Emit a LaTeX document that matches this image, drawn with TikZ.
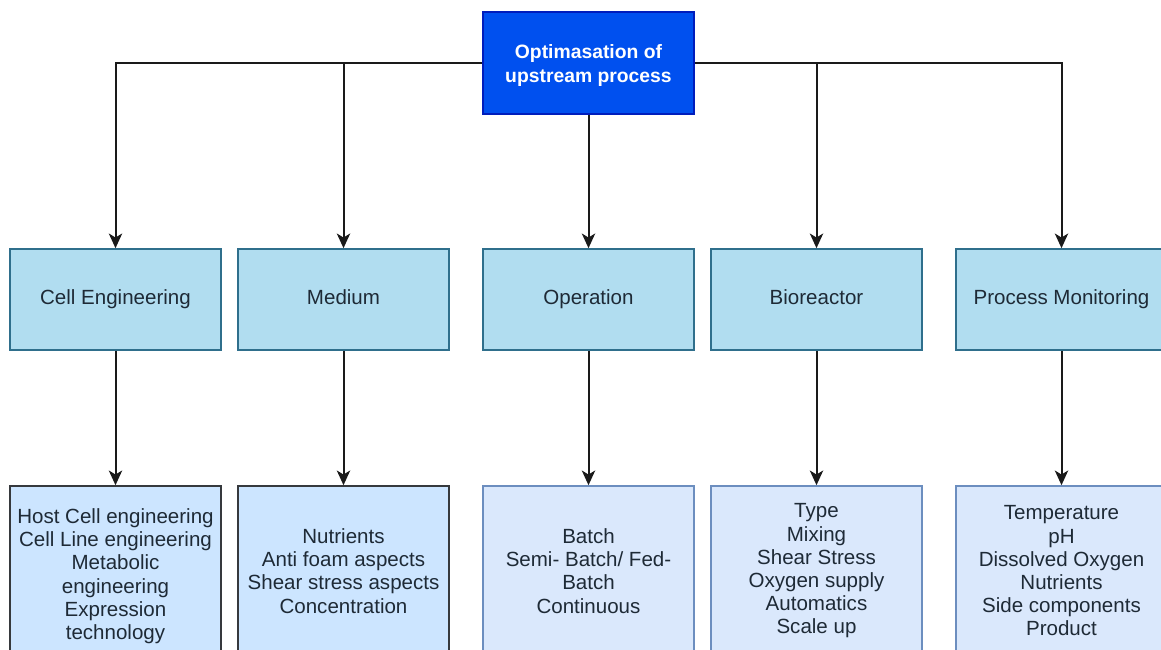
\documentclass[tikz,border=0pt]{standalone}
\usepackage{fontspec}
\setmainfont{Liberation Sans}
\usetikzlibrary{arrows.meta}

\definecolor{topfill}{HTML}{0050EF}
\definecolor{topline}{HTML}{001DBC}
\definecolor{midfill}{HTML}{B1DDF0}
\definecolor{midline}{HTML}{2F6F8C}
\definecolor{lowfillA}{HTML}{CCE5FF}
\definecolor{lowlineA}{HTML}{36393D}
\definecolor{lowfillB}{HTML}{DAE8FC}
\definecolor{lowlineB}{HTML}{6C8EBF}
\definecolor{ink}{HTML}{1E2A36}
\definecolor{wire}{HTML}{1A1A1A}

% a taller first line pushes a text block slightly down inside its box
\newcommand{\lowerfirst}{\rule{0pt}{19pt}}

\tikzset{
  headbox/.style={draw=topline, fill=topfill, line width=1.2pt, text=white,
    minimum width=158.25pt, minimum height=76.5pt, align=center,
    font=\fontsize{14.5}{18}\selectfont\bfseries},
  areabox/.style={draw=midline, fill=midfill, line width=1.2pt, text=ink,
    minimum width=158.25pt, minimum height=75.75pt,
    text height=11pt, text depth=3.3pt,
    font=\fontsize{15.4}{17.4}\selectfont},
  itembox/.style={line width=1.2pt, text=ink, inner sep=0pt,
    minimum width=158.25pt, minimum height=127.5pt, align=center,
    font=\fontsize{15.4}{17.4}\selectfont},
  itemA/.style={itembox, draw=lowlineA, fill=lowfillA},
  itemB/.style={itembox, draw=lowlineB, fill=lowfillB},
  conn/.style={draw=wire, line width=1.5pt,
    -{Stealth[length=11pt, width=10pt, inset=3pt]}},
}

\begin{document}
\begin{tikzpicture}[x=0.75pt, y=-0.75pt]
  \useasboundingbox (0,0) rectangle (1161,650);
  \clip (0,0) rectangle (1161,650);

  % root
  \node[headbox] (top) at (588.5,63) {\rule{0pt}{15pt}Optimasation of\\upstream process};

  % areas
  \node[areabox] (c1) at (115.5,299.5) {Cell Engineering};
  \node[areabox] (c2) at (343.5,299.5) {Medium};
  \node[areabox] (c3) at (588.5,299.5) {Operation};
  \node[areabox] (c4) at (816.5,299.5) {Bioreactor};
  \node[areabox] (c5) at (1061.5,299.5) {Process Monitoring};

  % details
  \node[itemA] (d1) at (115.5,571) {\lowerfirst Host Cell engineering\\Cell Line engineering\\Metabolic\\engineering\\Expression\\technology};
  \node[itemA] (d2) at (343.5,571) {Nutrients\\Anti foam aspects\\Shear stress aspects\\Concentration};
  \node[itemB] (d3) at (588.5,571) {Batch\\Semi- Batch/ Fed-\\Batch\\Continuous};
  \node[itemB] (d4) at (816.5,571) {Type\\Mixing\\Shear Stress\\Oxygen supply\\Automatics\\Scale up};
  \node[itemB] (d5) at (1061.5,571) {Temperature\\pH\\Dissolved Oxygen\\Nutrients\\Side components\\Product};

  % root to areas
  \draw[conn] (top.west) -| (c1.north);
  \draw[conn] (top.east) -| (c5.north);
  \draw[conn] (top.south) -- (c3.north);
  \draw[conn] (top.west -| c2.north) -- (c2.north);
  \draw[conn] (top.east -| c4.north) -- (c4.north);

  % areas to details
  \foreach \i in {1,...,5} {
    \draw[conn] (c\i.south) -- (d\i.north);
  }
\end{tikzpicture}
\end{document}
